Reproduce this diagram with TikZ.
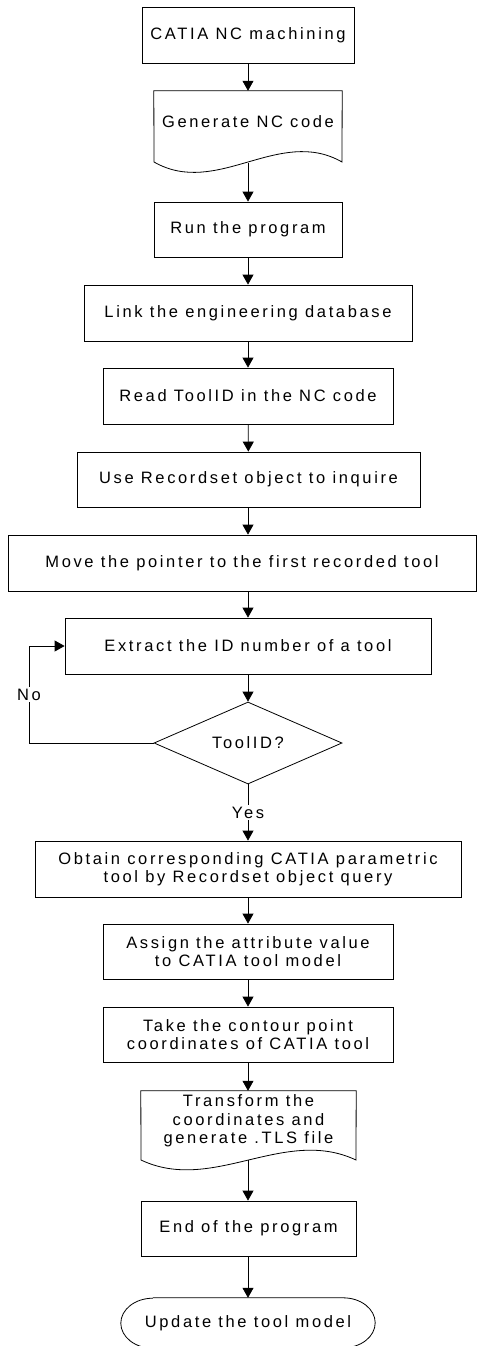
\documentclass[tikz,border=0pt]{standalone}
\usepackage{fontspec}
\setmainfont{Liberation Sans}[LetterSpace=16]
\usetikzlibrary{arrows.meta,shapes.geometric,calc}
\begin{document}
\begin{tikzpicture}[x=1pt,y=-1pt,
  every node/.style={font=\fontsize{16.5}{18.5}\selectfont},
  box/.style={draw, line width=0.8pt, inner sep=0pt, align=center, minimum height=55pt},
  txt/.style={inner sep=0pt, align=center},
  ln/.style={line width=0.8pt},
  arr/.style={line width=0.8pt, -{Triangle[width=11pt,length=10pt]}},
  lbl/.style={fill=white, inner sep=1.5pt}]
\useasboundingbox (0,0) rectangle (477,1346);
\clip (0,0) rectangle (477,1346);
% boxes
\node[box, minimum width=212pt, minimum height=56pt] (n1) at (248,35) {CATIA NC machining};
\node[txt, minimum width=188pt, minimum height=62pt] (n2) at (248,122) {Generate NC code};
\draw[ln] (n2.north west) -- (154,162) .. controls (217,198) and (279,126) .. (342,162) -- (n2.north east) -- cycle;
\coordinate (n2b) at (248,163);
\node[box, minimum width=188pt] (n3) at (248,229.5) {Run the program};
\node[box, minimum width=328pt, minimum height=56pt] (n4) at (248,313) {Link the engineering database};
\node[box, minimum width=290pt, minimum height=56pt] (n5) at (248,396) {Read ToolID in the NC code};
\node[box, minimum width=343pt] (n6) at (248.5,479.5) {Use Recordset object to inquire};
\node[box, minimum width=468pt, minimum height=56pt] (n7) at (242,563) {Move the pointer to the first recorded tool};
\node[box, minimum width=366pt, minimum height=56pt] (n8) at (248,646) {Extract the ID number of a tool};
\node[draw, line width=0.8pt, diamond, shape aspect=2.29, minimum width=188pt, minimum height=82pt, inner sep=0pt] (d) at (248,743) {ToolID?};
\node[box, minimum width=426pt, minimum height=56pt] (n10) at (248,869) {Obtain corresponding CATIA parametric\\tool by Recordset object query};
\node[box, minimum width=290pt] (n11) at (248,951.5) {Assign the attribute value\\to CATIA tool model};
\node[box, minimum width=290pt] (n12) at (248,1034.5) {Take the contour point\\coordinates of CATIA tool};
\node[txt, minimum width=215pt, minimum height=60pt] (n13) at (248.5,1121) {Transform the\\coordinates and\\generate .TLS file};
\draw[ln] (n13.north west) -- (141,1160) .. controls (213,1194) and (284,1126) .. (356,1160) -- (n13.north east) -- cycle;
\coordinate (n13b) at (248.5,1160);
\node[box, minimum width=215pt] (n14) at (248.5,1228.5) {End of the program};
\node[txt, minimum width=254pt, minimum height=50pt] (n15) at (248,1323) {Update the tool model};
\draw[ln] ($(n15.north west)+(32,0)$) -- ($(n15.north east)+(-32,0)$)
  arc[start angle=-90, end angle=90, x radius=32, y radius=25]
  -- ($(n15.south west)+(32,0)$)
  arc[start angle=90, end angle=270, x radius=32, y radius=25];
% connectors
\draw[arr] (n1) -- (n2);
\draw[arr] (n2b) -- (n3);
\draw[arr] (n3) -- (n4);
\draw[arr] (n4) -- (n5);
\draw[arr] (n5) -- (n6);
\draw[arr] (n6.south -| n5.south) -- (n7.north -| n5.south);
\draw[arr] (n7.south -| n5.south) -- (n8);
\draw[arr] (n8) -- (d);
\coordinate (c1) at (29,743);
\coordinate (c2) at (29,646);
\draw[arr] (d.west) -- (c1) -- node[lbl]{No} (c2) -- (n8.west);
\draw[arr] (d.south) -- node[lbl]{Yes} (n10.north);
\draw[arr] (n10) -- (n11);
\draw[arr] (n11) -- (n12);
\draw[arr] (n12.south -| n12.south) -- (n13.north -| n12.south);
\draw[arr] (n13b -| n12.south) -- (n14.north -| n12.south);
\draw[arr] (n14.south -| n12.south) -- (n15.north -| n12.south);
\end{tikzpicture}
\end{document}
